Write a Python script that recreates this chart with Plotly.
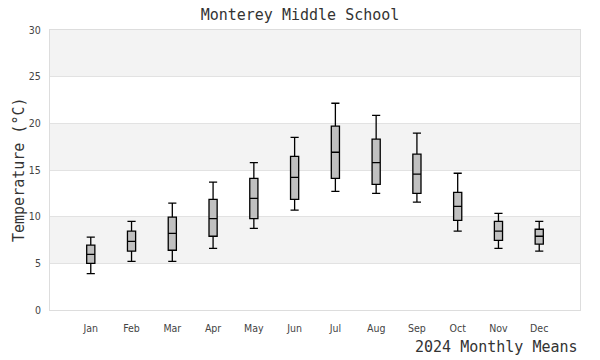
import plotly.graph_objects as go

months = ["Jan", "Feb", "Mar", "Apr", "May", "Jun", "Jul", "Aug", "Sep", "Oct", "Nov", "Dec"]
lower = [3.9, 5.2, 5.2, 6.6, 8.75, 10.7, 12.7, 12.5, 11.55, 8.45, 6.6, 6.3]
q1 = [5.0, 6.3, 6.4, 7.9, 9.8, 11.85, 14.1, 13.45, 12.5, 9.6, 7.45, 7.05]
median = [5.95, 7.35, 8.2, 9.8, 11.95, 14.2, 16.9, 15.8, 14.55, 11.1, 8.45, 7.9]
q3 = [6.95, 8.45, 9.95, 11.85, 14.1, 16.45, 19.7, 18.3, 16.7, 12.6, 9.5, 8.65]
upper = [7.8, 9.5, 11.45, 13.7, 15.8, 18.5, 22.15, 20.85, 18.95, 14.65, 10.35, 9.5]
y_ticks = [0, 5, 10, 15, 20, 25, 30]
band_edges = [(5, 10), (15, 20), (25, 30)]

W, H = 600, 360

fig = go.Figure()
fig.add_trace(go.Box(
    x=months, q1=q1, median=median, q3=q3,
    lowerfence=lower, upperfence=upper,
    fillcolor="#c0c0c0",
    line=dict(color="black", width=1.3),
    width=0.2, whiskerwidth=1,
    boxpoints=False, showlegend=False, hoverinfo="skip",
))

shapes = []
for lo, hi in band_edges:
    shapes.append(dict(type="rect", xref="paper", yref="y", x0=0, x1=1, y0=lo, y1=hi,
                       fillcolor="#f3f3f3", line=dict(width=0), layer="below"))

tick_font = dict(family="DejaVu Sans Condensed, DejaVu Sans", size=10.5, color="#444")
mono = "DejaVu Sans Mono"

fig.update_layout(
    width=W, height=H,
    margin=dict(l=50, r=20, t=30, b=50),
    paper_bgcolor="white", plot_bgcolor="white",
    shapes=shapes,
    title=dict(text="Monterey Middle School", x=0.5, xanchor="center",
               yref="container", y=1 - 14.5 / H, yanchor="middle",
               font=dict(family=mono, size=15, color="#333")),
    xaxis=dict(type="category", range=[-1, 12], showgrid=False, zeroline=False,
               showline=True, mirror=True, linecolor="#dddddd", linewidth=1,
               ticks="", ticklabelstandoff=8, tickfont=tick_font),
    yaxis=dict(range=[0, 30], tickvals=y_ticks, showgrid=True, gridcolor="#e2e2e2",
               zeroline=False, showline=True, mirror=True, linecolor="#dddddd", linewidth=1,
               ticks="", ticklabelstandoff=6, tickfont=tick_font),
    annotations=[
        dict(text="2024 Monthly Means", xref="paper", yref="paper", x=1, y=0,
             xanchor="right", yanchor="middle", yshift=-37, showarrow=False,
             font=dict(family=mono, size=15, color="#333")),
        dict(text="Temperature (°C)", xref="paper", yref="paper", x=0, y=0.5,
             xanchor="center", yanchor="middle", xshift=-31, textangle=-90, showarrow=False,
             font=dict(family=mono, size=15, color="#333")),
    ],
)

fig.write_html("out.html", config={"displayModeBar": False},
               post_script="document.body.style.margin='0';document.body.style.overflow='hidden';")
